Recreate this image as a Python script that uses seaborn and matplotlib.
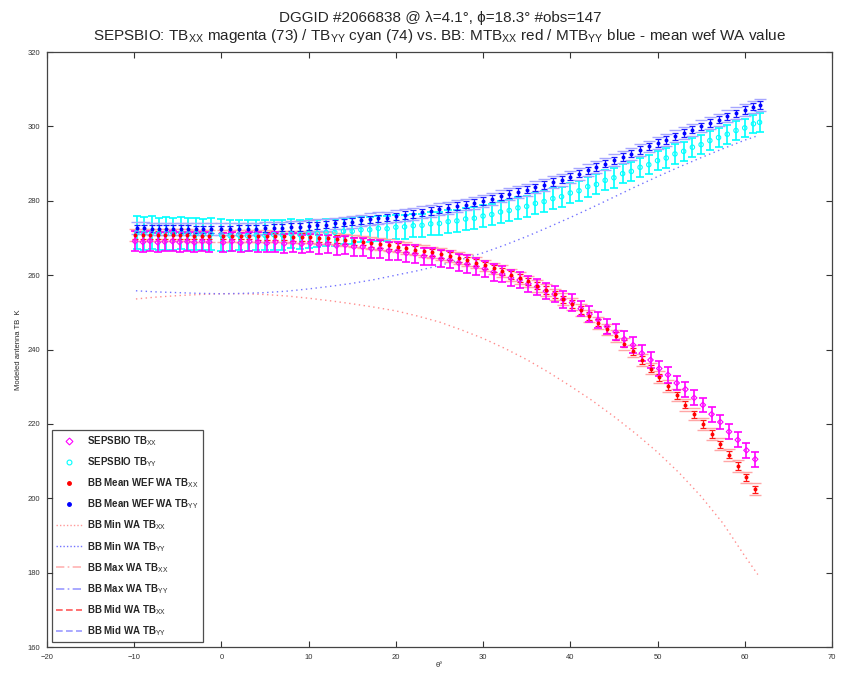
import numpy as np
import pandas as pd
import matplotlib
matplotlib.use("Agg")
import matplotlib.pyplot as plt
from matplotlib.lines import Line2D
import seaborn as sns

# ---------------- data ----------------
theta_xx = [-9.9, -9.0, -8.2, -7.3, -6.5, -5.6, -4.8, -3.9, -3.1, -2.2, -1.4,
            0.2, 1.2, 2.2, 3.2, 4.2, 5.2, 6.2, 7.2, 8.2, 9.2, 10.2, 11.2, 12.2, 13.2,
            14.2, 15.2, 16.2, 17.2, 18.2, 19.2, 20.2, 21.2, 22.2, 23.2, 24.2, 25.2,
            26.2, 27.2, 28.2, 29.2, 30.2, 31.2, 32.2, 33.2, 34.2, 35.2, 36.2, 37.2,
            38.2, 39.2, 40.2, 41.2, 42.2, 43.2, 44.2, 45.2, 46.2, 47.2, 48.2, 49.2,
            50.2, 51.2, 52.2, 53.2, 54.2, 55.2, 56.2, 57.2, 58.2, 59.2, 60.2, 61.2]

bb_xx = [270.8, 270.8, 270.8, 270.8, 270.7, 270.7, 270.7, 270.7, 270.6, 270.6, 270.6,
         270.6, 270.6, 270.6, 270.6, 270.5, 270.5, 270.4, 270.4, 270.3, 270.3, 270.2,
         270.0, 269.9, 269.7, 269.5, 269.2, 269.0, 268.7, 268.4, 268.0, 267.7, 267.3,
         266.9, 266.5, 266.1, 265.7, 265.2, 264.6, 264.0, 263.4, 262.6, 261.8, 261.0,
         260.1, 259.2, 258.3, 257.2, 256.0, 254.8, 253.5, 252.2, 250.6, 249.0, 247.2,
         245.4, 243.6, 241.6, 239.5, 237.2, 234.9, 232.5, 230.1, 227.7, 225.2, 222.6,
         220.0, 217.3, 214.5, 211.7, 208.7, 205.6, 202.4]

sep_xx = [269.1, 268.9, 269.2, 268.8, 269.0, 269.1, 268.9, 269.0, 268.8, 269.1, 268.9,
          268.8, 269.1, 268.7, 269.0, 268.9, 268.6, 268.9, 268.5, 268.8, 268.4, 268.6,
          268.2, 268.4, 267.9, 268.1, 267.6, 267.6, 267.1, 267.1, 266.5, 266.5, 265.9,
          265.7, 265.1, 265.0, 264.4, 264.1, 263.3, 263.0, 262.3, 261.7, 260.8, 260.3,
          259.3, 258.7, 257.7, 256.9, 255.7, 254.9, 253.5, 252.6, 251.0, 249.5, 248.0,
          246.2, 244.7, 242.8, 241.2, 239.0, 237.2, 234.9, 233.2, 231.0, 229.3, 227.0,
          225.1, 222.6, 220.5, 217.9, 215.7, 212.9, 210.5]

err_xx = [2.7, 2.6, 2.7, 2.6, 2.6, 2.7, 2.6, 2.6, 2.7, 2.6, 2.6,
          2.6, 2.6, 2.6, 2.6, 2.6, 2.5, 2.6, 2.5, 2.5, 2.5, 2.5,
          2.5, 2.5, 2.4, 2.5, 2.4, 2.4, 2.4, 2.4, 2.4, 2.4, 2.3,
          2.4, 2.3, 2.3, 2.3, 2.3, 2.3, 2.3, 2.3, 2.2, 2.3, 2.2,
          2.2, 2.2, 2.2, 2.2, 2.2, 2.2, 2.2, 2.2, 2.1, 2.2, 2.1,
          2.1, 2.1, 2.1, 2.1, 2.1, 2.1, 2.0, 2.1, 2.0, 2.0, 2.0,
          2.0, 2.0, 2.0, 2.0, 2.0, 2.0, 2.0]

theta_yy = [-9.7, -8.9, -8.0, -7.2, -6.3, -5.5, -4.6, -3.8, -2.9, -2.1, -1.2,
            0.0, 1.0, 2.0, 3.0, 4.0, 5.0, 6.0, 7.0, 8.0, 9.0, 10.0, 11.0, 12.0, 13.0,
            14.0, 15.0, 16.0, 17.0, 18.0, 19.0, 20.0, 21.0, 22.0, 23.0, 24.0, 25.0,
            26.0, 27.0, 28.0, 29.0, 30.0, 31.0, 32.0, 33.0, 34.0, 35.0, 36.0, 37.0,
            38.0, 39.0, 40.0, 41.0, 42.0, 43.0, 44.0, 45.0, 46.0, 47.0, 48.0, 49.0,
            50.0, 51.0, 52.0, 53.0, 54.0, 55.0, 56.0, 57.0, 58.0, 59.0, 60.0, 61.0, 61.7]

bb_yy = [272.6, 272.6, 272.5, 272.5, 272.5, 272.4, 272.4, 272.4, 272.3, 272.3, 272.3,
         272.3, 272.3, 272.4, 272.4, 272.5, 272.6, 272.7, 272.8, 272.9, 273.0, 273.2,
         273.4, 273.6, 273.9, 274.1, 274.4, 274.7, 275.0, 275.3, 275.5, 275.8, 276.2,
         276.5, 276.9, 277.3, 277.7, 278.1, 278.6, 279.0, 279.5, 280.0, 280.6, 281.2,
         281.8, 282.4, 283.0, 283.6, 284.3, 285.0, 285.7, 286.5, 287.3, 288.2, 289.1,
         290.0, 290.9, 291.8, 292.7, 293.6, 294.6, 295.5, 296.4, 297.3, 298.2, 299.1,
         300.0, 300.9, 301.8, 302.7, 303.5, 304.4, 305.3, 305.8]

sep_yy = [271.4, 271.3, 271.4, 271.2, 271.3, 271.2, 271.3, 271.1, 271.2, 271.0, 271.1,
          270.8, 270.6, 270.8, 270.6, 270.8, 270.7, 270.9, 270.8, 271.1, 270.9, 271.2,
          271.2, 271.5, 271.5, 271.8, 271.8, 272.2, 272.2, 272.6, 272.5, 272.9, 273.0,
          273.3, 273.4, 273.8, 273.9, 274.4, 274.6, 275.1, 275.3, 275.9, 276.3, 277.0,
          277.4, 278.1, 278.5, 279.3, 279.8, 280.6, 281.1, 282.1, 282.7, 283.8, 284.4,
          285.5, 286.2, 287.3, 287.9, 289.0, 289.7, 290.8, 291.5, 292.6, 293.3, 294.4,
          295.1, 296.2, 297.0, 297.9, 298.9, 299.6, 300.7, 301.1]

err_yy = [4.4, 4.4, 4.4, 4.3, 4.4, 4.3, 4.3, 4.3, 4.3, 4.2, 4.3,
          4.2, 4.2, 4.1, 4.1, 4.0, 4.0, 4.0, 3.9, 3.9, 3.8, 3.8,
          3.7, 3.7, 3.6, 3.5, 3.5, 3.4, 3.4, 3.3, 3.3, 3.2, 3.2,
          3.1, 3.1, 3.1, 3.0, 3.0, 3.0, 2.9, 2.9, 2.9, 2.9, 2.9,
          2.8, 2.9, 2.8, 2.8, 2.8, 2.8, 2.7, 2.7, 2.7, 2.7, 2.7,
          2.7, 2.7, 2.6, 2.6, 2.6, 2.6, 2.6, 2.6, 2.6, 2.6, 2.5,
          2.6, 2.5, 2.5, 2.5, 2.5, 2.5, 2.5, 2.5]

BB_SPREAD = 1.0      # half-width of BB WA spread around the WEF mean (K)
BB_MAXMID = 1.6      # half-width of BB max / mid WA values around the mean (K)

theta_min = [-9.8, -7.5, -5.0, -2.5, 0.0, 2.5, 5.0, 7.5, 10.0, 12.5, 15.0, 17.5, 20.0,
             22.5, 25.0, 27.5, 30.0, 32.5, 35.0, 37.5, 40.0, 42.5, 45.0, 47.5, 50.0,
             52.5, 55.0, 57.5, 60.0, 61.5]
min_xx = [253.6, 254.1, 254.5, 254.8, 255.0, 255.0, 254.8, 254.4, 253.8, 253.1, 252.3,
          251.4, 250.4, 249.0, 247.4, 245.3, 243.0, 240.3, 237.3, 233.9, 230.2, 226.3,
          222.0, 217.4, 212.4, 206.8, 200.5, 193.3, 184.5, 179.5]
min_yy = [255.8, 255.5, 255.3, 255.1, 255.0, 255.1, 255.3, 255.7, 256.3, 257.0, 257.8,
          258.8, 260.0, 261.2, 262.6, 264.2, 266.0, 268.1, 270.4, 272.9, 275.5, 278.2,
          281.0, 283.8, 286.5, 289.1, 291.6, 294.0, 296.3, 297.5]

x_ticks = [-20, -10, 0, 10, 20, 30, 40, 50, 60, 70]
y_ticks = [160, 180, 200, 220, 240, 260, 280, 300, 320]

legend_labels = [r"SEPSBIO TB$_{\mathrm{XX}}$", r"SEPSBIO TB$_{\mathrm{YY}}$",
                 r"BB Mean WEF WA TB$_{\mathrm{XX}}$", r"BB Mean WEF WA TB$_{\mathrm{YY}}$",
                 r"BB Min WA TB$_{\mathrm{XX}}$", r"BB Min WA TB$_{\mathrm{YY}}$",
                 r"BB Max WA TB$_{\mathrm{XX}}$", r"BB Max WA TB$_{\mathrm{YY}}$",
                 r"BB Mid WA TB$_{\mathrm{XX}}$", r"BB Mid WA TB$_{\mathrm{YY}}$"]

title1 = "DGGID #2066838 @ λ=4.1°, ϕ=18.3° #obs=147"
title2 = (r"SEPSBIO: TB$_{\mathrm{XX}}$ magenta (73) / TB$_{\mathrm{YY}}$ cyan (74) vs. BB: "
          r"MTB$_{\mathrm{XX}}$ red / MTB$_{\mathrm{YY}}$ blue - mean wef WA value")

# ---------------- styling ----------------
sns.set_style("ticks")
plt.rcParams["font.family"] = ["Liberation Sans", "DejaVu Sans"]
plt.rcParams["mathtext.fontset"] = "custom"
plt.rcParams["mathtext.rm"] = "Liberation Sans"

fig = plt.figure(figsize=(8.51, 6.74), dpi=100)
ax = fig.add_axes([0.0552, 0.040, 0.9224, 0.8828])

xx = pd.DataFrame({"theta": theta_xx, "bb": bb_xx, "sep": sep_xx, "err": err_xx})
yy = pd.DataFrame({"theta": theta_yy, "bb": bb_yy, "sep": sep_yy, "err": err_yy})
mn = pd.DataFrame({"theta": theta_min, "xx": min_xx, "yy": min_yy})

PALE_RED = (1.0, 0.65, 0.65)
PALE_BLUE = (0.65, 0.65, 1.0)

# min WA dotted lines
sns.lineplot(data=mn, x="theta", y="xx", ax=ax, color=(1.0, 0.55, 0.55),
             linestyle=(0, (1, 2.5)), linewidth=1.0, sort=False, estimator=None)
sns.lineplot(data=mn, x="theta", y="yy", ax=ax, color=(0.45, 0.45, 1.0),
             linestyle=(0, (1, 2.5)), linewidth=1.0, sort=False, estimator=None)

# SEPSBIO YY (cyan) error bars
ax.errorbar(yy["theta"], yy["sep"], yerr=yy["err"], fmt="none", ecolor="#00ffff",
            elinewidth=1.2, capsize=3.2, capthick=1.2, zorder=2)
# BB max / mid WA as pale caps
ax.errorbar(xx["theta"], xx["bb"], yerr=BB_MAXMID, fmt="none", ecolor=PALE_RED,
            elinewidth=0.0, capsize=4.5, capthick=1.0, zorder=3)
ax.errorbar(yy["theta"], yy["bb"], yerr=BB_MAXMID, fmt="none", ecolor=PALE_BLUE,
            elinewidth=0.0, capsize=4.5, capthick=1.0, zorder=3)
# BB WEF mean with spread
ax.errorbar(xx["theta"], xx["bb"], yerr=BB_SPREAD, fmt="none", ecolor="#ff1a1a",
            elinewidth=0.9, capsize=2.5, capthick=0.9, zorder=4)
ax.errorbar(yy["theta"], yy["bb"], yerr=BB_SPREAD, fmt="none", ecolor="#1a1aff",
            elinewidth=0.9, capsize=2.5, capthick=0.9, zorder=4)
# SEPSBIO XX (magenta) error bars
ax.errorbar(xx["theta"], xx["sep"], yerr=xx["err"], fmt="none", ecolor="#ff00ff",
            elinewidth=1.2, capsize=3.2, capthick=1.2, zorder=5)

# SEPSBIO markers
sns.scatterplot(data=yy, x="theta", y="sep", ax=ax, marker="o", s=10,
                facecolors="none", edgecolor="#00ffff", linewidth=0.8, zorder=6)
sns.scatterplot(data=xx, x="theta", y="sep", ax=ax, marker="D", s=8,
                facecolors="none", edgecolor="#ff00ff", linewidth=0.8, zorder=6)

# BB mean points
sns.scatterplot(data=xx, x="theta", y="bb", ax=ax, marker="o", s=8,
                color="#ff0000", edgecolor="#ff0000", linewidth=0, zorder=7)
sns.scatterplot(data=yy, x="theta", y="bb", ax=ax, marker="o", s=8,
                color="#0000ff", edgecolor="#0000ff", linewidth=0, zorder=7)

# axes
ax.set_xlim(-20, 70)
ax.set_ylim(160, 320)
ax.set_xticks(x_ticks)
ax.set_yticks(y_ticks)
ax.tick_params(direction="in", length=4, width=0.8, top=True, right=True,
               labelsize=5.5, colors="#333333", pad=5)
for sp in ax.spines.values():
    sp.set_visible(True)
    sp.set_color("#444444")
    sp.set_linewidth(0.9)
ax.set_xlabel("θ°", fontsize=5.5, labelpad=1)
ax.set_ylabel("Modeled antenna TB  K", fontsize=5.5, labelpad=4)

# legend
handles = [
    Line2D([], [], linestyle="none", marker="D", markersize=3.5, markerfacecolor="none",
           markeredgecolor="#ff00ff", markeredgewidth=0.8),
    Line2D([], [], linestyle="none", marker="o", markersize=3.5, markerfacecolor="none",
           markeredgecolor="#00ffff", markeredgewidth=0.8),
    Line2D([], [], linestyle="none", marker="o", markersize=2.5, color="#ff0000"),
    Line2D([], [], linestyle="none", marker="o", markersize=2.5, color="#0000ff"),
    Line2D([], [], color=(1.0, 0.6, 0.6), linestyle=(0, (1, 1.5)), linewidth=1),
    Line2D([], [], color=(0.45, 0.45, 1.0), linestyle=(0, (1, 1.5)), linewidth=1),
    Line2D([], [], color=(1.0, 0.7, 0.7), linestyle=(0, (5, 2, 1, 2)), linewidth=1.2),
    Line2D([], [], color=(0.6, 0.6, 1.0), linestyle=(0, (5, 2, 1, 2)), linewidth=1.2),
    Line2D([], [], color=(1.0, 0.35, 0.35), linestyle=(0, (4, 2)), linewidth=1.2),
    Line2D([], [], color=(0.6, 0.6, 1.0), linestyle=(0, (4, 2)), linewidth=1.2),
]
leg = ax.legend(handles=handles, labels=legend_labels, loc="lower left",
                bbox_to_anchor=(0.006, 0.008), borderaxespad=0, fancybox=False,
                frameon=True, edgecolor="#222222", labelspacing=0.75,
                handlelength=2.7, handletextpad=0.5, borderpad=0.45,
                prop={"weight": "bold", "size": 7.0})
leg.get_frame().set_linewidth(0.9)

fig.text(0.517, 0.974, title1, ha="center", va="center", fontsize=11)
fig.text(0.517, 0.947, title2, ha="center", va="center", fontsize=11)

fig.savefig("out.png", dpi=100)
